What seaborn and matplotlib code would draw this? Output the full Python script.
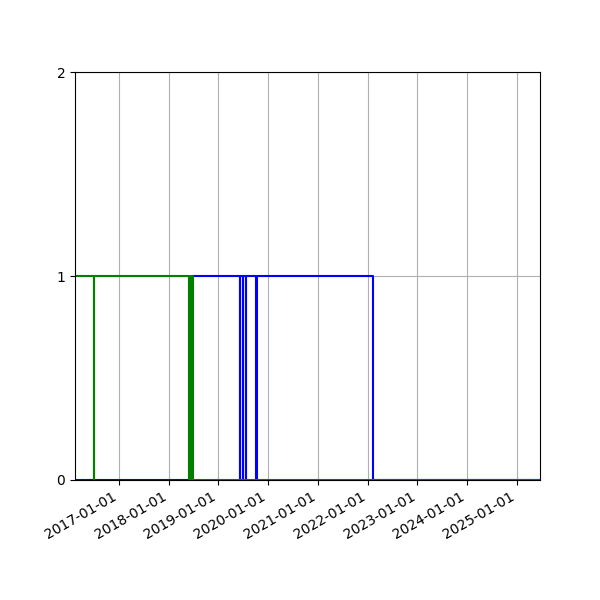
import pandas as pd
import matplotlib
matplotlib.use('Agg')
import matplotlib.pyplot as plt
import matplotlib.dates as mdates
import seaborn as sns

# Status timelines (0 = off, 1 = on), step-post
green_dates = ['2016-01-01', '2016-07-03', '2016-07-05', '2018-05-29', '2018-06-03',
               '2018-06-08', '2018-06-13', '2018-06-18', '2018-06-23', '2018-06-29',
               '2025-12-31']
green_values = [1, 0, 1, 0, 1, 0, 1, 0, 1, 0, 0]

blue_dates = ['2016-01-01', '2018-06-25', '2019-06-07', '2019-06-11', '2019-06-29',
              '2019-07-03', '2019-07-21', '2019-07-25', '2019-10-07', '2019-10-11',
              '2022-02-09', '2025-12-31']
blue_values = [0, 1, 0, 1, 0, 1, 0, 1, 0, 1, 0, 0]

x_start = '2016-02-15'
x_end = '2025-06-18'
y_ticks = [0, 1, 2]

green_df = pd.DataFrame({'date': pd.to_datetime(green_dates), 'value': green_values})
blue_df = pd.DataFrame({'date': pd.to_datetime(blue_dates), 'value': blue_values})

fig, ax = plt.subplots(figsize=(6, 6), dpi=100)

sns.lineplot(data=blue_df, x='date', y='value', ax=ax, color='blue',
             drawstyle='steps-post', estimator=None, legend=False, linewidth=1.5)
sns.lineplot(data=green_df, x='date', y='value', ax=ax, color='green',
             drawstyle='steps-post', estimator=None, legend=False, linewidth=1.5)

ax.set_xlim(pd.Timestamp(x_start), pd.Timestamp(x_end))
ax.set_ylim(0, 2)
ax.set_yticks(y_ticks)
ax.xaxis.set_major_locator(mdates.YearLocator())
ax.xaxis.set_major_formatter(mdates.DateFormatter('%Y-%m-%d'))
ax.set_xlabel('')
ax.set_ylabel('')
ax.grid(True)

fig.autofmt_xdate()
fig.savefig('out.png', dpi=100)
